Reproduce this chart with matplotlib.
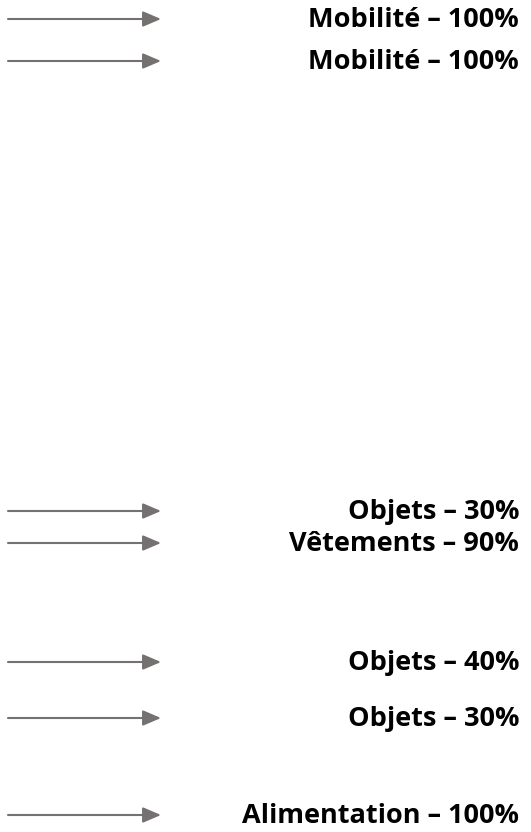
import matplotlib
matplotlib.use("Agg")
import matplotlib.pyplot as plt

labels = ["Mobilité – 100%", "Mobilité – 100%", "Objets – 30%", "Vêtements – 90%",
          "Objets – 40%", "Objets – 30%", "Alimentation – 100%"]
rows = [19, 61, 511, 543, 662, 718, 815]

fig = plt.figure(figsize=(5.31, 8.32), dpi=100)
ax = fig.add_axes([0, 0, 1, 1])
ax.set_xlim(0, 531)
ax.set_ylim(832, 0)
ax.axis("off")

arrow_color = "#767171"
for label, y in zip(labels, rows):
    ax.annotate("", xy=(161, y), xytext=(8, y),
                arrowprops=dict(arrowstyle="-|>,head_length=1.1,head_width=0.47",
                                mutation_scale=10, color=arrow_color, lw=1.5,
                                shrinkA=0, shrinkB=0))
    ax.text(519, y + 1, label, ha="right", va="center", fontsize=19.5,
            fontweight="bold", family=["Open Sans", "DejaVu Sans"], color="black")

fig.savefig("out.png", dpi=100)
